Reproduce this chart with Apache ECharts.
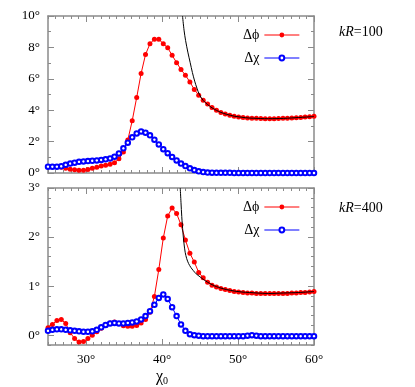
<!DOCTYPE html>
<html>
<head>
<meta charset="utf-8">
<script src="https://cdn.jsdelivr.net/npm/echarts@6.0.0/dist/echarts.min.js"></script>
<style>html,body{margin:0;padding:0;background:#fff;}#c{width:415px;height:387px;}</style>
</head>
<body>
<div id="c"></div>
<script>
// ---- data ----
const chi0 = [25,25.58,26.17,26.75,27.33,27.92,28.5,29.08,29.67,30.25,30.83,31.42,32,32.58,33.17,33.75,34.33,34.92,35.5,36.08,36.67,37.25,37.83,38.42,39,39.58,40.17,40.75,41.33,41.92,42.5,43.08,43.67,44.25,44.83,45.42,46,46.58,47.17,47.75,48.33,48.92,49.5,50.08,50.67,51.25,51.83,52.42,53,53.58,54.17,54.75,55.33,55.92,56.5,57.08,57.67,58.25,58.83,59.42,60];

const dPhi100 = [0.40,0.40,0.40,0.36,0.30,0.24,0.20,0.18,0.18,0.22,
  0.30,0.36,0.44,0.50,0.56,0.66,0.90,1.33,2.10,3.33,
  4.81,6.34,7.54,8.24,8.52,8.52,8.24,7.97,7.50,7.03,
  6.59,6.23,5.80,5.32,4.96,4.64,4.40,4.17,4.00,3.86,
  3.76,3.68,3.62,3.57,3.54,3.51,3.49,3.48,3.47,3.46,
  3.46,3.46,3.47,3.48,3.49,3.50,3.52,3.54,3.56,3.58,3.61];
const dChi100 = [0.40,0.40,0.40,0.43,0.52,0.60,0.66,0.71,0.74,0.76,
  0.78,0.80,0.83,0.87,0.93,1.04,1.25,1.57,1.93,2.27,
  2.52,2.65,2.57,2.40,2.12,1.82,1.52,1.26,1.02,0.80,
  0.60,0.44,0.30,0.19,0.11,0.06,0.03,0.02,0.01,0.01,
  0.01,0.01,0,0,0,0,0,0,0,0,
  0,0,0,0,0,0,0,0,0,0,0];
const asym100 = [[42.7,10],[42.9,9.1],[43.1,8.45],[43.4,7.7],[43.7,7.05],[44.0,6.4],[44.3,5.85],[44.6,5.4],[44.9,5.02],[45.42,4.62],[46.0,4.36],[46.58,4.15],[47.17,3.99],[47.75,3.86],[48.5,3.74],[49.5,3.62],[50.5,3.55],[51.5,3.50],[52.5,3.48],[53.5,3.46],[54.5,3.46],[55.5,3.47],[56.5,3.49],[57.5,3.52],[58.5,3.55],[59.5,3.58],[60,3.61]];

const dPhi400 = [0.15,0.22,0.30,0.32,0.24,0.05,-0.07,-0.14,-0.13,-0.07,
  0.00,0.07,0.14,0.20,0.25,0.27,0.24,0.19,0.18,0.18,
  0.20,0.25,0.32,0.47,0.79,1.34,1.98,2.43,2.59,2.48,
  2.25,1.94,1.67,1.49,1.28,1.17,1.08,1.02,0.98,0.95,
  0.93,0.91,0.89,0.88,0.87,0.86,0.86,0.85,0.85,0.85,
  0.85,0.85,0.85,0.85,0.85,0.86,0.86,0.87,0.87,0.88,0.89];
const dChi400 = [0.09,0.11,0.12,0.12,0.11,0.10,0.09,0.08,0.07,0.07,
  0.08,0.11,0.16,0.21,0.24,0.25,0.24,0.24,0.25,0.26,
  0.28,0.32,0.39,0.49,0.62,0.76,0.83,0.74,0.57,0.39,
  0.22,0.09,0.02,0.00,-0.01,-0.02,-0.02,-0.02,-0.02,-0.02,
  -0.02,-0.02,-0.02,-0.02,-0.02,-0.01,0.00,-0.01,-0.02,-0.02,
  -0.02,-0.02,-0.02,-0.02,-0.02,-0.02,-0.02,-0.02,-0.02,-0.02,-0.02];
const asym400 = [[42.4,3.0],[42.5,2.7],[42.6,2.42],[42.75,2.1],[42.9,1.86],[43.05,1.69],[43.25,1.56],[43.5,1.46],[43.8,1.38],[44.1,1.32],[44.5,1.25],[45.0,1.19],[45.5,1.13],[46.0,1.08],[46.58,1.03],[47.17,0.99],[47.75,0.96],[48.5,0.93],[49.5,0.90],[50.5,0.88],[51.5,0.87],[52.5,0.86],[54,0.85],[56,0.86],[58,0.87],[60,0.89]];

const xMajorTicks = [30,40,50,60];
const yMajorTicks100 = [0,2,4,6,8,10];
const yMajorTicks400 = [0,1,2,3];
const seriesNames = ['Δϕ','Δχ'];
const panelLabels = ['100','400'];

// ---- styling ----
const FONT = 'Liberation Serif';
const GRAY = '#8a8a8a';
const RED = '#ff0000';
const BLUE = '#0000ff';
const deg = v => Math.round(v) + '°';

function xAxes(grid, withLabels) {
  const base = {gridIndex: grid, type: 'value', min: 25, max: 60, splitLine: {show: false}};
  const line = {show: true, onZero: false, lineStyle: {color: GRAY, width: 1.5}};
  const out = [];
  ['bottom', 'top'].forEach(pos => {
    out.push(Object.assign({}, base, {position: pos, interval: 1, axisLine: line,
      axisTick: {inside: true, length: 3, lineStyle: {color: GRAY}}, axisLabel: {show: false}}));
    out.push(Object.assign({}, base, {position: pos, interval: 5,
      axisLine: {show: false, onZero: false},
      axisTick: {inside: true, length: 6, customValues: xMajorTicks, lineStyle: {color: GRAY}},
      axisLabel: (withLabels && pos === 'bottom') ? {show: true, customValues: xMajorTicks, formatter: deg,
        margin: 8, color: '#000', fontFamily: FONT, fontSize: 13} : {show: false}}));
  });
  return out;
}
function yAxes(grid, min, max, minorInt, majors) {
  const base = {gridIndex: grid, type: 'value', min: min, max: max, splitLine: {show: false}};
  const line = {show: true, onZero: false, lineStyle: {color: GRAY, width: 1.5}};
  const out = [];
  ['left', 'right'].forEach(pos => {
    out.push(Object.assign({}, base, {position: pos, interval: minorInt, axisLine: line,
      axisTick: {inside: true, length: 3, lineStyle: {color: GRAY}}, axisLabel: {show: false}}));
    out.push(Object.assign({}, base, {position: pos, interval: minorInt,
      axisLine: {show: false, onZero: false},
      axisTick: {inside: true, length: 6, customValues: majors, lineStyle: {color: GRAY}},
      axisLabel: pos === 'left' ? {show: true, customValues: majors, formatter: deg, margin: 8,
        color: '#000', fontFamily: FONT, fontSize: 13} : {show: false}}));
  });
  return out;
}
const pairs = ys => chi0.map((x, i) => [x, ys[i]]);
function panelSeries(xi, yi, phi, chi, asym) {
  return [
    {name: seriesNames[0], type: 'line', xAxisIndex: xi, yAxisIndex: yi, data: pairs(phi),
     symbol: 'circle', symbolSize: 5, lineStyle: {color: RED, width: 1}, itemStyle: {color: RED},
     animation: false, z: 3},
    {name: seriesNames[1], type: 'line', xAxisIndex: xi, yAxisIndex: yi, data: pairs(chi),
     symbol: 'emptyCircle', symbolSize: 4.5, lineStyle: {color: BLUE, width: 1},
     itemStyle: {color: BLUE, borderColor: BLUE, borderWidth: 0.7}, animation: false, z: 3},
    {name: 'asym', type: 'line', xAxisIndex: xi, yAxisIndex: yi, data: asym, showSymbol: false,
     symbol: 'none', smooth: 0.3, lineStyle: {color: '#000', width: 1}, animation: false, z: 4}
  ];
}
function legend(top) {
  return {data: seriesNames, orient: 'vertical', left: 238, top: top, align: 'right',
    itemWidth: 35, itemHeight: 6, itemGap: 9, selectedMode: false,
    lineStyle: {width: 1}, itemStyle: {borderWidth: 0.7},
    textStyle: {fontFamily: FONT, fontSize: 14, color: '#000'}};
}
function kr(val, y) {
  return {type: 'text', x: 339, y: y, style: {
    text: '{i|kR}{n|=' + val + '}', verticalAlign: 'middle',
    rich: {i: {fontFamily: FONT, fontSize: 14, fontStyle: 'italic', fill: '#000'},
           n: {fontFamily: FONT, fontSize: 14, fill: '#000'}}}};
}

const chart = echarts.init(document.getElementById('c'), null, {renderer: 'canvas'});
chart.setOption({
  backgroundColor: '#fff',
  animation: false,
  grid: [
    {left: 48, top: 16, width: 266, height: 157},
    {left: 48, top: 188, width: 266, height: 157}
  ],
  xAxis: xAxes(0, false).concat(xAxes(1, true)),
  yAxis: yAxes(0, 0, 10, 1, yMajorTicks100).concat(yAxes(1, -0.2, 3, 0.2, yMajorTicks400)),
  legend: [legend(23), legend(195)],
  series: panelSeries(0, 0, dPhi100, dChi100, asym100).concat(panelSeries(4, 4, dPhi400, dChi400, asym400)),
  graphic: [
    kr(panelLabels[0], 32),
    kr(panelLabels[1], 208),
    {type: 'text', x: 156, y: 377, style: {
      text: '{c|χ}{s|0}', verticalAlign: 'middle',
      rich: {c: {fontFamily: FONT, fontSize: 16, fill: '#000'},
             s: {fontFamily: FONT, fontSize: 10, fill: '#000', verticalAlign: 'bottom', padding: [8, 0, 0, 0]}}}}
  ]
});
</script>
</body>
</html>
